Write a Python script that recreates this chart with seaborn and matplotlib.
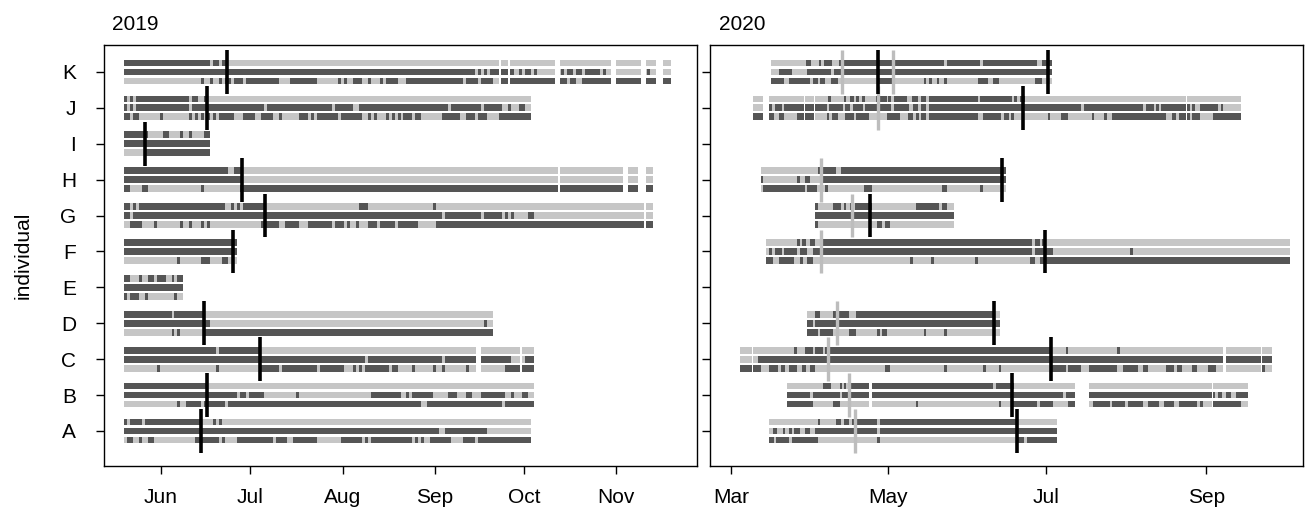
import matplotlib
matplotlib.use("Agg")
import matplotlib.pyplot as plt
import matplotlib.dates as mdates
import seaborn as sns
from datetime import datetime

# ---------------------------------------------------------------------------
# Daily state tracks (three per individual): tokens "<state><start day>",
# D = dark state, L = light state. Days are offsets from the season origin.
# ---------------------------------------------------------------------------
INDIVIDUALS = ["A", "B", "C", "D", "E", "F", "G", "H", "I", "J", "K"]

ORIGIN_2019 = datetime(2019, 5, 19, 12)
ORIGIN_2020 = datetime(2020, 3, 1)

# ---- 2019 season ----
K_2019 = ["D0 L29 D30 L32 D33 L35",
          "D0 L118 D119 L120 D121 L122 D123 L131 D133 L134 D135 L137 D138 L139 D147 L148 D149 L151 D152 L154 D155 L160 D161 L162 D176 L177",
          "L0 D26 L27 D29 L30 D32 L33 D34 L36 D37 L40 D41 L52 D56 L65 D72 L73 D74 L75 D77 L80 D82 L83 D86 L87 D88 L92 D95 L114 D115 L119 D120 L124 D126 L149 D150 L152 D154"]
J_2019 = ["D0 L1 D2 L3 D4 L22 D23 L25 D27 L28",
          "D0 L1 D2 L3 D4 L22 D23 L47 D48 L70 D71 L77 D79 L109 D110 L120 D121 L127 D129 L130 D133 L135",
          "D0 L2 D3 L5 D12 L13 D22 L23 D24 L25 D26 L27 D28 L29 D30 L31 D32 L37 D40 L44 D46 L50 D52 L53 D59 L62 D63 L64 D65 L72 D73 L80 D82 L83 D84 L85 D88 L89 D90 L91 D92 L93 D94 L97 D98 L100 D107 L113 D115 L118 D119 L122 D126"]
I_2019 = ["D0 L8 D13 L15 D19 L20 D22 L23 D27",
          "D0",
          "L0 D7"]
H_2019 = ["D0 L35 D37 L40",
          "D0 L40",
          "D0 L2 D6 L8 D26 L27 D39"]
G_2019 = ["D0 L2 D3 L4 D5 L34 D36 L37 D38 L39 D40 L47 D79 L82 D104 L105",
          "D0 L2 D3 L107 D108 L120 D121 L127 D128 L129 D130 L131 D136 L138",
          "L0 D2 L6 D10 L11 D19 L20 D22 L23 D26 L27 D28 L29 D46 L52 D54 L59 D62 L70 D71 L74 D75 L76 D78 L79 D82 L85 D86 L91 D92 L99 D105"]
F_2019 = ["D0",
          "D0",
          "L0 D18 L19 D26 L29 D33 L35"]
E_2019 = ["D0 L2 D5 L6 D8 L10 D11 L14 D16 L17 D18",
          "D0",
          "D0 L1 D2 L5 D7 L8 D17 L18"]
D_2019 = ["D0 L16 D17 L27",
          "D0 L29 D121 L122",
          "L0 D16 L17 D18 L19 D27"]
C_2019 = ["D0 L31 D32 L46",
          "D0 L81 D82 L107 D108 L130 D135",
          "L0 D11 L12 D31 L32 D46 L52 D53 L65 D66 L74 D77 L78 D79 L80 D81 L89 D90 L92 D97 L98 D104 L105 D107 L108 D115 L116 D128"]
B_2019 = ["D0 L28",
          "D0 L38 D39 L41 D42 L47 D58 L59 D83 L93 D95 L96 D97 L104 D109 L112 D115 L117 D120 L128 D130 L131 D134 L136",
          "L0 D18 L19 D21 L26 D27 L34 D35 L100 D102 L127 D128"]
A_2019 = ["D0 L1 D2 L6 D7 L26 D30 L31 D32 L33",
          "D0 L106 D108 L122",
          "L0 D1 L3 D5 L6 D8 L10 D24 L32 D33 L34 D38 L50 D51 L55 D57 L65 D73 L80 D81 L82 D83 L97 D98 L99 D100 L101 D103 L110 D114 L118 D119"]

END_2019 = {"A": 137, "B": 138, "C": 138, "D": 124, "E": 20, "F": 38,
            "G": 178, "H": 178, "I": 29, "J": 137, "K": 184}
GAPS_2019 = {"K": [(126.1, 126.8), (129.2, 129.8), (145.0, 146.6), (163.8, 165.5),
                   (173.9, 175.6), (178.9, 181.3)],
             "H": [(145.9, 146.6), (167.8, 169.5), (172.9, 175.6)],
             "G": [(174.9, 175.6)],
             "C": [(118.4, 120.1), (133.2, 133.9)]}
BLACK_2019 = {"A": [25.8], "B": [27.8], "C": [45.7], "D": [26.8], "F": [36.8],
              "G": [47.4], "H": [39.7], "I": [7.1], "J": [27.8], "K": [34.7]}
GREY_2019 = {}

# ---- 2020 season ----
K_2020 = ["L15.5 D29 L31 D34 L35 D36 L39 D42 L82.5 D83.7 L96.4 D97.6 L118.5 D120.5",
          "L15.5 D18.6 L23.6 D29.4 L38.7 D39.8",
          "D15.5 L20.5 D22.5 L30.6 D31.8 L33.7 D34.5 L36.4 D38.7 L41.4 D57 L62.2 D74.8 L75.5 D76.7 L77.9 D79.8 L80.6 D82.5 L83.7 D95.7 L99.5 D101.5 L103.8 D117.7 L120.5"]
J_2020 = ["L8.5 D37.6 L38.7 D43.8 L44.6 D46 L47.6 D48.4 L49.6 D50.8 L51.8 D56 L60.3 D61 L62 D63 L68 D70 L72.4 D73.6 L75.5 D76.7 L95.7 D96.4 L108.8 D109.6 L110.8 D111.9 L113.9",
          "L8.5 D14.7 L15.9 D17 L19.8 D20.5 L37.2 D38 L43.4 D44.2 L46.1 D47.2 L51.1 D51.9 L62 D63 L69 D70.5 L72.4 D73.6 L75.5 D76.7 L135.6 D136.7 L159.5 D160.7 L163.8 D164.6 L165.8 D166.5 L177.8 D178.5 L179.7 D181.6 L188.6 D189.8 L190.5",
          "D8.5 L16.7 D18.6 L20.5 D25.6 L32.5 D37.2 L38 D39.1 L41.4 D44.2 L47.6 D48.4 L53.4 D60.3 L65.5 D68.6 L70.5 D71.5 L72.7 D73.6 L75.5 D76.7 L95.7 D97.6 L104.6 D105.7 L107.7 D108.4 L109.6 D122.8 L123.6 D127.8 L130.5 D139.8 L140.6 D144.4 L145.6 D147.5 L168.5 D170.8 L172.3 D173.5 L177.8 D178.5 L181.6 D186.7"]
H_2020 = ["L11.6 D33.7 L40.7 D42.6",
          "D11.6 L12.4 D25.6 L26.7 D28.7 L30.6 D34.5",
          "L11.6 D12.4 L28.7 D29.4 L33.3 D36.4 L37.6 D51.5 L54.6 D81.7 L83.7 D96.4 L97.6"]
G_2020 = ["D32.5 L33.7 D39.5 L42.6 D43.8 L44.5 D46 L47 D48 L54.6 D71.7 L80.6 D81.7 L83.7",
          "D32.5",
          "D32.5 L33.7 D56.6 L58.5 D59.6 L61.6"]
F_2020 = ["L13.6 D25.6 L26.7 D27.5 L29 D30.6 L32.5 D35 L116.6 D117.8 L119.8 D120.5 L121.7",
          "L13.6 D14.7 L16 D17 L19.8 D20.5 L25.6 D26.7 L29.5 D31.8 L116.6 D117.8 L124.7 D154.5 L155.7",
          "D13.6 L16.3 D18.6 L24.4 D26.7 L27.9 D29.4 L31.8 D69.3 L70.5 D77.4 L78.6 D94.5 L95.7 D115.8 L117.8 D119.7"]
E_2020 = []
D_2020 = ["L29.4 D32.5 L34.5 D39.5 L45.7 D48.4 L101.9",
          "D29.4 L31.8 D32.6",
          "D29.4 L33.7 D34.5 L39.5 D45.7 L48.4 D56.5 L57.7 D58.5 L60.4 D74.7 L75.5 D82.5 L83.7"]
C_2020 = ["L3.5 D24.4 L25.6 D28.7 L31.8 D32.5 L35.6 D36.4 L124.3 D129.7 L130.5 D149.5 L150.6",
          "L3.5 D10.5",
          "D3.5 L11.6 D14.7 L18.2 D19.5 L21 D22.5 L25.6 D27.5 L29 D30.6 L32.5 D59.6 L61.6 D82.5 L83.7 D97.6 L98.8 D103.8 L104.6 D123.5 L129.7 D130.5 L135.6 D138.7 L149.5 D151.8 L157.6 D159.5 L161.5 D168.5 L171.6 D172.8 L174.7 D178.5 L180.5 D184.7 L187.8 D205.6 L206.8"]
B_2020 = ["L21.7 D35.6 L38.7 D42.2 L43 D43.8 L44.5 D46 L101.5 D102.7 L109.5",
          "D21.7 L30.6 D31.8 L42.2 D43 L128.6 D129.7 L187.4 D188.6 L190.1 D191.7 L193.6 D195.6",
          "D21.7 L31.8 D39.5 L42.2 D71.7 L72.4 D103.8 L104.6 D108.4 L118.5 D119.7 L124.7 D130.5 L138.7 D140 L146.8 D147.5 L152.6 D153.7 L159.5 D161.5 L165.8 D167.7 L171.6 D173.5 L180.5 D181.6 L182.8 D186.7 L197.5"]
A_2020 = ["L14.7 D33.7 L34.5 D40.7 L42.6 D43.8 L45.7 D47 L56.5 D57.7 L110.4",
          "L14.7 D16.3 L18 D20 L21 D22.5 L23.6 D24.4 L26.7 D28.7 L30.6 D32.5 L56.5 D57.7",
          "D14.7 L16.7 D17.4 L22.5 D23.6 L33.7 D56.5 L57.7 D110.4 L113.5 D114.6"]

END_2020 = {"A": 126.3, "B": 200.2, "C": 209.5, "D": 104.2, "F": 216.5,
            "G": 86.4, "H": 106.5, "J": 197.5, "K": 124.3}
GAPS_2020 = {"J": [(12.4, 14.7), (28.3, 28.7), (32.1, 32.5), (176.2, 176.6)],
             "C": [(8.1, 8.5), (190.5, 191.7), (205.2, 205.6)],
             "B": [(53.4, 54.6), (133.2, 138.7), (186.3, 186.7)]}
BLACK_2020 = {"A": [110.8], "B": [109.0], "C": [123.9], "D": [101.7], "F": [121.7],
              "G": [53.8], "H": [105.0], "J": [113.0], "K": [56.8, 122.8]}
GREY_2020 = {"A": [48.0], "B": [45.7], "C": [37.7], "D": [40.9], "F": [34.7],
             "G": [46.9], "H": [34.7], "J": [56.8], "K": [42.9, 62.9]}

TRACKS_2019 = {"A": A_2019, "B": B_2019, "C": C_2019, "D": D_2019, "E": E_2019,
               "F": F_2019, "G": G_2019, "H": H_2019, "I": I_2019, "J": J_2019,
               "K": K_2019}
TRACKS_2020 = {"A": A_2020, "B": B_2020, "C": C_2020, "D": D_2020, "E": E_2020,
               "F": F_2020, "G": G_2020, "H": H_2020, "J": J_2020, "K": K_2020}

# axis ticks
TICKS_2019 = [datetime(2019, m, 1) for m in range(6, 12)]
TICKLABELS_2019 = ["Jun", "Jul", "Aug", "Sep", "Oct", "Nov"]
TICKS_2020 = [datetime(2020, m, 1) for m in (3, 5, 7, 9)]
TICKLABELS_2020 = ["Mar", "May", "Jul", "Sep"]
XLIM_2019 = (-6.7, 192.7)
XLIM_2020 = (-8.1, 221.5)

STATE_COLORS = {"D": "#555555", "L": "#c6c6c6"}
EVENT_COLORS = {"black": "#000000", "grey": "#bdbdbd"}
STRIPE_H = 0.187
STRIPE_STEP = 0.25
EVENT_HALF = 0.61
FS = 15

sns.set_style("ticks")
plt.rcParams["font.family"] = ["Liberation Sans", "DejaVu Sans"]
plt.rcParams["font.size"] = FS
plt.rcParams["text.color"] = "black"
plt.rcParams["axes.labelcolor"] = "black"
plt.rcParams["xtick.color"] = "black"
plt.rcParams["ytick.color"] = "black"


def split_runs(track, end, gaps):
    toks = track.split()
    states = [t[0] for t in toks]
    starts = [float(t[1:]) for t in toks]
    bounds = starts[1:] + [end]
    runs = {"D": [], "L": []}
    for st, a, b in zip(states, starts, bounds):
        pieces = [(a, b)]
        for g0, g1 in gaps:
            cut = []
            for p0, p1 in pieces:
                if g1 <= p0 or g0 >= p1:
                    cut.append((p0, p1))
                    continue
                if g0 > p0:
                    cut.append((p0, g0))
                if g1 < p1:
                    cut.append((g1, p1))
            pieces = cut
        runs[st].extend(pieces)
    return runs


def draw_season(ax, origin, xlim, tracks, ends, gaps, black, grey):
    x0 = mdates.date2num(origin)
    for i, ind in enumerate(INDIVIDUALS):
        y = i + 1
        for k, track in enumerate(tracks.get(ind, [])):
            yc = y + STRIPE_STEP * (1 - k)
            runs = split_runs(track, ends[ind], gaps.get(ind, []))
            for st, pieces in runs.items():
                if pieces:
                    ax.broken_barh([(x0 + a, b - a) for a, b in pieces],
                                   (yc - STRIPE_H / 2, STRIPE_H),
                                   facecolors=STATE_COLORS[st], edgecolor="none",
                                   linewidth=0, zorder=2)
        for d in grey.get(ind, []):
            ax.vlines(x0 + d, y - EVENT_HALF, y + EVENT_HALF,
                      color=EVENT_COLORS["grey"], lw=2.4, zorder=3)
        for d in black.get(ind, []):
            ax.vlines(x0 + d, y - EVENT_HALF, y + EVENT_HALF,
                      color=EVENT_COLORS["black"], lw=2.6, zorder=4)
    ax.set_xlim(x0 + xlim[0], x0 + xlim[1])
    ax.set_ylim(0.025, 11.75)
    ax.set_yticks(range(1, len(INDIVIDUALS) + 1))
    for sp in ax.spines.values():
        sp.set_visible(True)
        sp.set_color("black")
        sp.set_linewidth(1.0)
    ax.tick_params(direction="out", length=6, width=1.0, color="black",
                   labelsize=FS, labelcolor="black")
    ax.tick_params(axis="x", pad=10)
    ax.tick_params(axis="y", pad=14)
    ax.grid(False)


W, H = 1309, 524
fig = plt.figure(figsize=(W / 100, H / 100), dpi=100)
ax1 = fig.add_axes([104 / W, (H - 466) / H, (697 - 104) / W, (466 - 45) / H])
ax2 = fig.add_axes([710 / W, (H - 466) / H, (1303 - 710) / W, (466 - 45) / H])

draw_season(ax1, ORIGIN_2019, XLIM_2019, TRACKS_2019, END_2019, GAPS_2019,
            BLACK_2019, GREY_2019)
draw_season(ax2, ORIGIN_2020, XLIM_2020, TRACKS_2020, END_2020, GAPS_2020,
            BLACK_2020, GREY_2020)

ax1.set_xticks(mdates.date2num(TICKS_2019))
ax1.set_xticklabels(TICKLABELS_2019)
ax1.set_yticklabels(INDIVIDUALS)
ax1.set_ylabel("individual", fontsize=FS, labelpad=20, color="black")
ax2.set_xticks(mdates.date2num(TICKS_2020))
ax2.set_xticklabels(TICKLABELS_2020)
ax2.set_yticklabels([])

ax1.text(0.014, 1.027, "2019", transform=ax1.transAxes, ha="left", va="bottom",
         fontsize=FS, color="black")
ax2.text(0.016, 1.027, "2020", transform=ax2.transAxes, ha="left", va="bottom",
         fontsize=FS, color="black")

fig.savefig("out.png", dpi=100)
